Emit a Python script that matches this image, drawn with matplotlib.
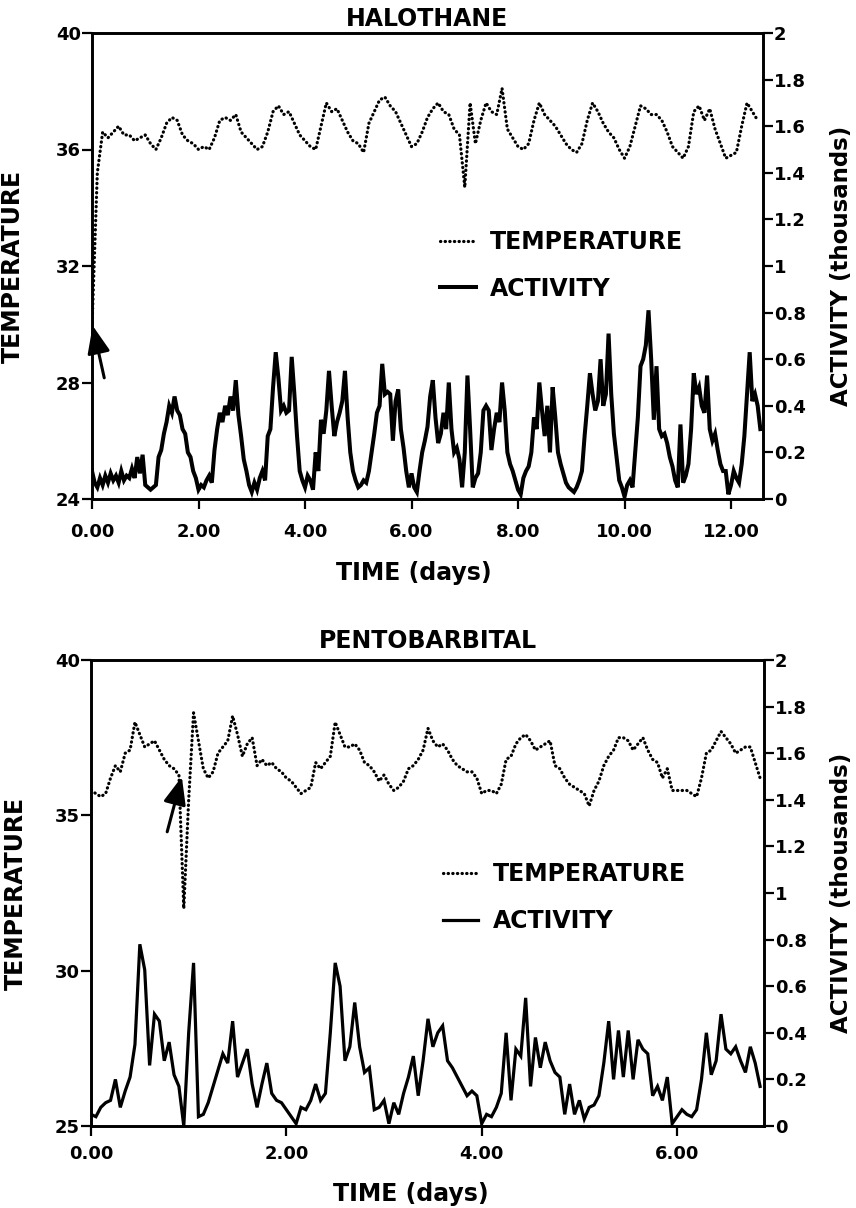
import numpy as np
import matplotlib.pyplot as plt
from matplotlib.ticker import FixedLocator, FixedFormatter

plt.rcParams['font.family'] = 'DejaVu Sans'
plt.rcParams['font.weight'] = 'bold'

# ---------------- data ----------------
# HALOTHANE: activity every 0.05 day, temperature every 0.1 day
halo_act_step = 0.05
halo_act = [
    0.12, 0.07, 0.05, 0.09, 0.06, 0.10, 0.07, 0.11, 0.08, 0.10, 0.07, 0.12, 0.08, 0.10, 0.09, 0.13, 0.09, 0.18, 0.11, 0.19,
    0.06, 0.05, 0.04, 0.05, 0.06, 0.18, 0.21, 0.28, 0.33, 0.40, 0.37, 0.44, 0.38, 0.36, 0.30, 0.28, 0.20, 0.18, 0.12, 0.09,
    0.04, 0.06, 0.05, 0.08, 0.10, 0.07, 0.21, 0.30, 0.37, 0.33, 0.40, 0.36, 0.44, 0.38, 0.51, 0.36, 0.27, 0.17, 0.12, 0.06,
    0.03, 0.07, 0.04, 0.09, 0.12, 0.08, 0.27, 0.30, 0.48, 0.63, 0.52, 0.38, 0.40, 0.37, 0.38, 0.61, 0.45, 0.27, 0.12, 0.08,
    0.05, 0.10, 0.08, 0.04, 0.20, 0.12, 0.34, 0.28, 0.38, 0.55, 0.40, 0.27, 0.33, 0.37, 0.42, 0.55, 0.35, 0.20, 0.12, 0.08,
    0.05, 0.06, 0.08, 0.07, 0.12, 0.20, 0.28, 0.37, 0.40, 0.58, 0.45, 0.46, 0.45, 0.25, 0.42, 0.47, 0.30, 0.22, 0.12, 0.05,
    0.11, 0.05, 0.03, 0.12, 0.20, 0.25, 0.31, 0.44, 0.51, 0.35, 0.24, 0.28, 0.37, 0.30, 0.50, 0.30, 0.20, 0.22, 0.17, 0.05,
    0.20, 0.53, 0.30, 0.05, 0.09, 0.11, 0.20, 0.38, 0.40, 0.38, 0.21, 0.30, 0.37, 0.33, 0.50, 0.38, 0.20, 0.15, 0.12, 0.08,
    0.04, 0.02, 0.09, 0.12, 0.14, 0.20, 0.35, 0.30, 0.50, 0.38, 0.27, 0.40, 0.20, 0.48, 0.35, 0.20, 0.15, 0.11, 0.07, 0.05,
    0.04, 0.03, 0.05, 0.08, 0.12, 0.27, 0.40, 0.54, 0.45, 0.38, 0.42, 0.60, 0.40, 0.45, 0.71, 0.45, 0.28, 0.18, 0.08, 0.05,
    0.01, 0.06, 0.08, 0.05, 0.20, 0.35, 0.57, 0.60, 0.66, 0.81, 0.60, 0.34, 0.57, 0.30, 0.27, 0.28, 0.24, 0.18, 0.14, 0.08,
    0.05, 0.32, 0.07, 0.10, 0.15, 0.30, 0.54, 0.45, 0.48, 0.40, 0.37, 0.53, 0.30, 0.25, 0.28, 0.21, 0.15, 0.12, 0.12, 0.02,
    0.06, 0.12, 0.09, 0.07, 0.15, 0.27, 0.45, 0.63, 0.42, 0.45, 0.40, 0.30,
]
halo_temp_step = 0.1
halo_temp = [
    29.9, 35.2, 36.6, 36.4, 36.6, 36.8, 36.5, 36.5, 36.3, 36.4,
    36.5, 36.2, 36.0, 36.4, 36.9, 37.1, 37.0, 36.5, 36.3, 36.2,
    36.0, 36.1, 36.0, 36.4, 37.0, 37.1, 37.0, 37.2, 36.6, 36.4,
    36.2, 36.0, 36.1, 36.6, 37.3, 37.5, 37.2, 37.3, 36.9, 36.5,
    36.3, 36.1, 36.0, 36.8, 37.6, 37.3, 37.4, 37.0, 36.6, 36.3,
    36.2, 35.9, 36.9, 37.3, 37.7, 37.8, 37.5, 37.3, 36.9, 36.5,
    36.1, 36.2, 36.6, 37.1, 37.4, 37.6, 37.3, 37.2, 36.7, 36.5,
    34.7, 37.6, 36.2, 37.0, 37.6, 37.3, 37.2, 38.1, 36.7, 36.4,
    36.1, 36.0, 36.2, 37.0, 37.6, 37.2, 37.0, 36.8, 36.5, 36.2,
    36.0, 35.9, 36.2, 37.0, 37.6, 37.3, 36.9, 36.6, 36.4, 36.0,
    35.7, 36.1, 36.8, 37.5, 37.4, 37.2, 37.2, 37.0, 36.6, 36.1,
    35.9, 35.7, 36.1, 37.3, 37.5, 37.0, 37.4, 36.7, 36.2, 35.7,
    35.8, 35.9, 36.8, 37.6, 37.3, 37.0,
]

# PENTOBARBITAL: both series every 0.05 day
pento_step = 0.05
pento_act = [
    0.05, 0.04, 0.08, 0.10, 0.11, 0.20, 0.08, 0.15, 0.21, 0.35, 0.78, 0.67, 0.26, 0.48, 0.45, 0.28, 0.36, 0.22, 0.17, 0.00,
    0.40, 0.70, 0.04, 0.05, 0.10, 0.17, 0.24, 0.31, 0.27, 0.45, 0.21, 0.27, 0.33, 0.18, 0.08, 0.18, 0.27, 0.14, 0.11, 0.10,
    0.07, 0.04, 0.01, 0.08, 0.07, 0.11, 0.18, 0.11, 0.14, 0.40, 0.70, 0.60, 0.28, 0.34, 0.53, 0.34, 0.23, 0.25, 0.07, 0.08,
    0.11, 0.01, 0.10, 0.05, 0.14, 0.21, 0.30, 0.13, 0.28, 0.46, 0.34, 0.40, 0.43, 0.28, 0.25, 0.21, 0.17, 0.13, 0.15, 0.13,
    0.01, 0.05, 0.04, 0.08, 0.14, 0.40, 0.11, 0.33, 0.30, 0.55, 0.17, 0.38, 0.25, 0.36, 0.28, 0.23, 0.21, 0.05, 0.18, 0.05,
    0.11, 0.03, 0.08, 0.09, 0.13, 0.27, 0.45, 0.20, 0.41, 0.21, 0.41, 0.20, 0.37, 0.33, 0.31, 0.13, 0.17, 0.11, 0.21, 0.01,
    0.04, 0.07, 0.05, 0.04, 0.07, 0.20, 0.40, 0.22, 0.28, 0.48, 0.33, 0.31, 0.34, 0.28, 0.23, 0.34, 0.27, 0.17,
]
pento_temp = [
    35.8, 35.7, 35.6, 35.7, 36.2, 36.6, 36.4, 37.0, 37.1, 38.0, 37.6, 37.2, 37.3, 37.4, 37.1, 36.8, 36.6, 36.5, 36.3, 32.0,
    35.5, 38.3, 37.4, 36.5, 36.2, 36.4, 37.0, 37.2, 37.4, 38.2, 37.6, 36.9, 37.3, 37.5, 36.6, 36.8, 36.6, 36.7, 36.5, 36.4,
    36.2, 36.1, 35.9, 35.7, 35.8, 35.9, 36.7, 36.5, 36.7, 36.9, 38.0, 37.6, 37.2, 37.2, 37.3, 37.1, 36.7, 36.6, 36.4, 36.1,
    36.3, 36.0, 35.8, 35.9, 36.1, 36.5, 36.6, 36.8, 37.1, 37.8, 37.4, 37.2, 37.3, 37.1, 36.8, 36.6, 36.5, 36.4, 36.4, 36.2,
    35.7, 35.8, 35.8, 35.7, 36.0, 36.8, 36.9, 37.3, 37.5, 37.6, 37.4, 37.1, 37.2, 37.3, 37.4, 36.6, 36.5, 36.2, 36.0, 35.9,
    35.8, 35.7, 35.3, 35.8, 36.1, 36.6, 36.9, 37.1, 37.5, 37.5, 37.4, 37.1, 37.3, 37.5, 37.1, 36.8, 36.7, 36.2, 36.5, 35.8,
    35.8, 35.8, 35.8, 35.7, 35.6, 36.2, 37.0, 37.1, 37.4, 37.7, 37.5, 37.3, 37.0, 37.1, 37.2, 37.2, 36.7, 36.2,
]

halo_xticks = [0, 2, 4, 6, 8, 10, 12]
pento_xticks = [0, 2, 4, 6]
halo_temp_ticks = [24, 28, 32, 36, 40]
pento_temp_ticks = [25, 30, 35, 40]
act_ticks = [0, 0.2, 0.4, 0.6, 0.8, 1.0, 1.2, 1.4, 1.6, 1.8, 2.0]
act_ticklabels = ['0', '0.2', '0.4', '0.6', '0.8', '1', '1.2', '1.4', '1.6', '1.8', '2']

# ---------------- drawing ----------------
fig = plt.figure(figsize=(8.56, 12.08), dpi=100)
W, H = 856, 1208
dotted = (0, (0.1, 1.35))


def panel(rect, title, temp_t, temp, act_t, act, xmax, tlim, tticks, act_lw,
          xpad, leg_xy, xlab_xy, ylab_x, rlab_x, title_pad, arrow):
    ax = fig.add_axes(rect)
    ax2 = ax.twinx()
    lt, = ax.plot(temp_t, temp, color='black', lw=2.3, linestyle=dotted,
                  dash_capstyle='round')
    la, = ax2.plot(act_t, act, color='black', lw=act_lw, solid_joinstyle='miter')

    ax.set_xlim(0, xmax)
    ax.set_ylim(*tlim)
    ax2.set_ylim(0, 2)
    ax.set_xticks(tticks[0])
    ax.set_xticklabels(['%.2f' % v for v in tticks[0]])
    ax.set_yticks(tticks[1])
    ax2.yaxis.set_major_locator(FixedLocator(act_ticks))
    ax2.yaxis.set_major_formatter(FixedFormatter(act_ticklabels))

    for a in (ax, ax2):
        for s in a.spines.values():
            s.set_linewidth(1.9)
    ax.tick_params(axis='x', direction='out', length=7, width=1.6, pad=xpad, labelsize=13)
    ax.tick_params(axis='y', direction='out', length=7, width=1.6, pad=1, labelsize=13)
    ax2.tick_params(axis='y', direction='out', length=7, width=1.6, pad=1, labelsize=13)

    ax.set_title(title, fontsize=17, fontweight='bold', pad=title_pad)
    ax.set_xlabel('TIME (days)', fontsize=17, fontweight='bold')
    ax.xaxis.set_label_coords(*xlab_xy)
    ax.set_ylabel('TEMPERATURE', fontsize=17, fontweight='bold')
    ax.yaxis.set_label_coords(ylab_x, 0.5)
    ax2.set_ylabel('ACTIVITY (thousands)', fontsize=16.5, fontweight='bold')
    ax2.yaxis.set_label_coords(rlab_x, 0.5)

    ax2.legend([lt, la], ['TEMPERATURE', 'ACTIVITY'], loc='center left',
               bbox_to_anchor=leg_xy, frameon=False, borderpad=0, borderaxespad=0,
               handlelength=1.5, handletextpad=0.6, labelspacing=0.95,
               prop={'size': 17, 'weight': 'bold'})

    ax.annotate('', xy=arrow[0], xytext=arrow[1],
                arrowprops=dict(arrowstyle='-|>,head_length=0.8,head_width=0.33',
                                color='black', lw=2.2, mutation_scale=21,
                                shrinkA=0, shrinkB=0))
    return ax, ax2


# top panel: HALOTHANE
halo_t_act = np.arange(len(halo_act)) * halo_act_step
halo_t_temp = np.arange(len(halo_temp)) * halo_temp_step
panel([92 / W, 1 - 499 / H, 671 / W, 466 / H], 'HALOTHANE',
      halo_t_temp, halo_temp, halo_t_act, halo_act, 12.6, (24, 40),
      (halo_xticks, halo_temp_ticks), 2.9, 10,
      (0.519, 0.501), (0.48, -0.133), -0.1, 1.1, 5,
      ((0.013, 29.95), (0.23, 28.16)))

# bottom panel: PENTOBARBITAL
pento_t = np.arange(len(pento_act)) * pento_step
panel([91 / W, 1 - 1126 / H, 673 / W, 466 / H], 'PENTOBARBITAL',
      pento_t, pento_temp, pento_t, pento_act, 6.89, (25, 40),
      (pento_xticks, pento_temp_ticks), 2.3, 7,
      (0.523, 0.49), (0.475, -0.12), -0.094, 1.098, 9,
      ((0.93, 36.24), (0.78, 34.47)))

fig.savefig('out.png', dpi=100)
